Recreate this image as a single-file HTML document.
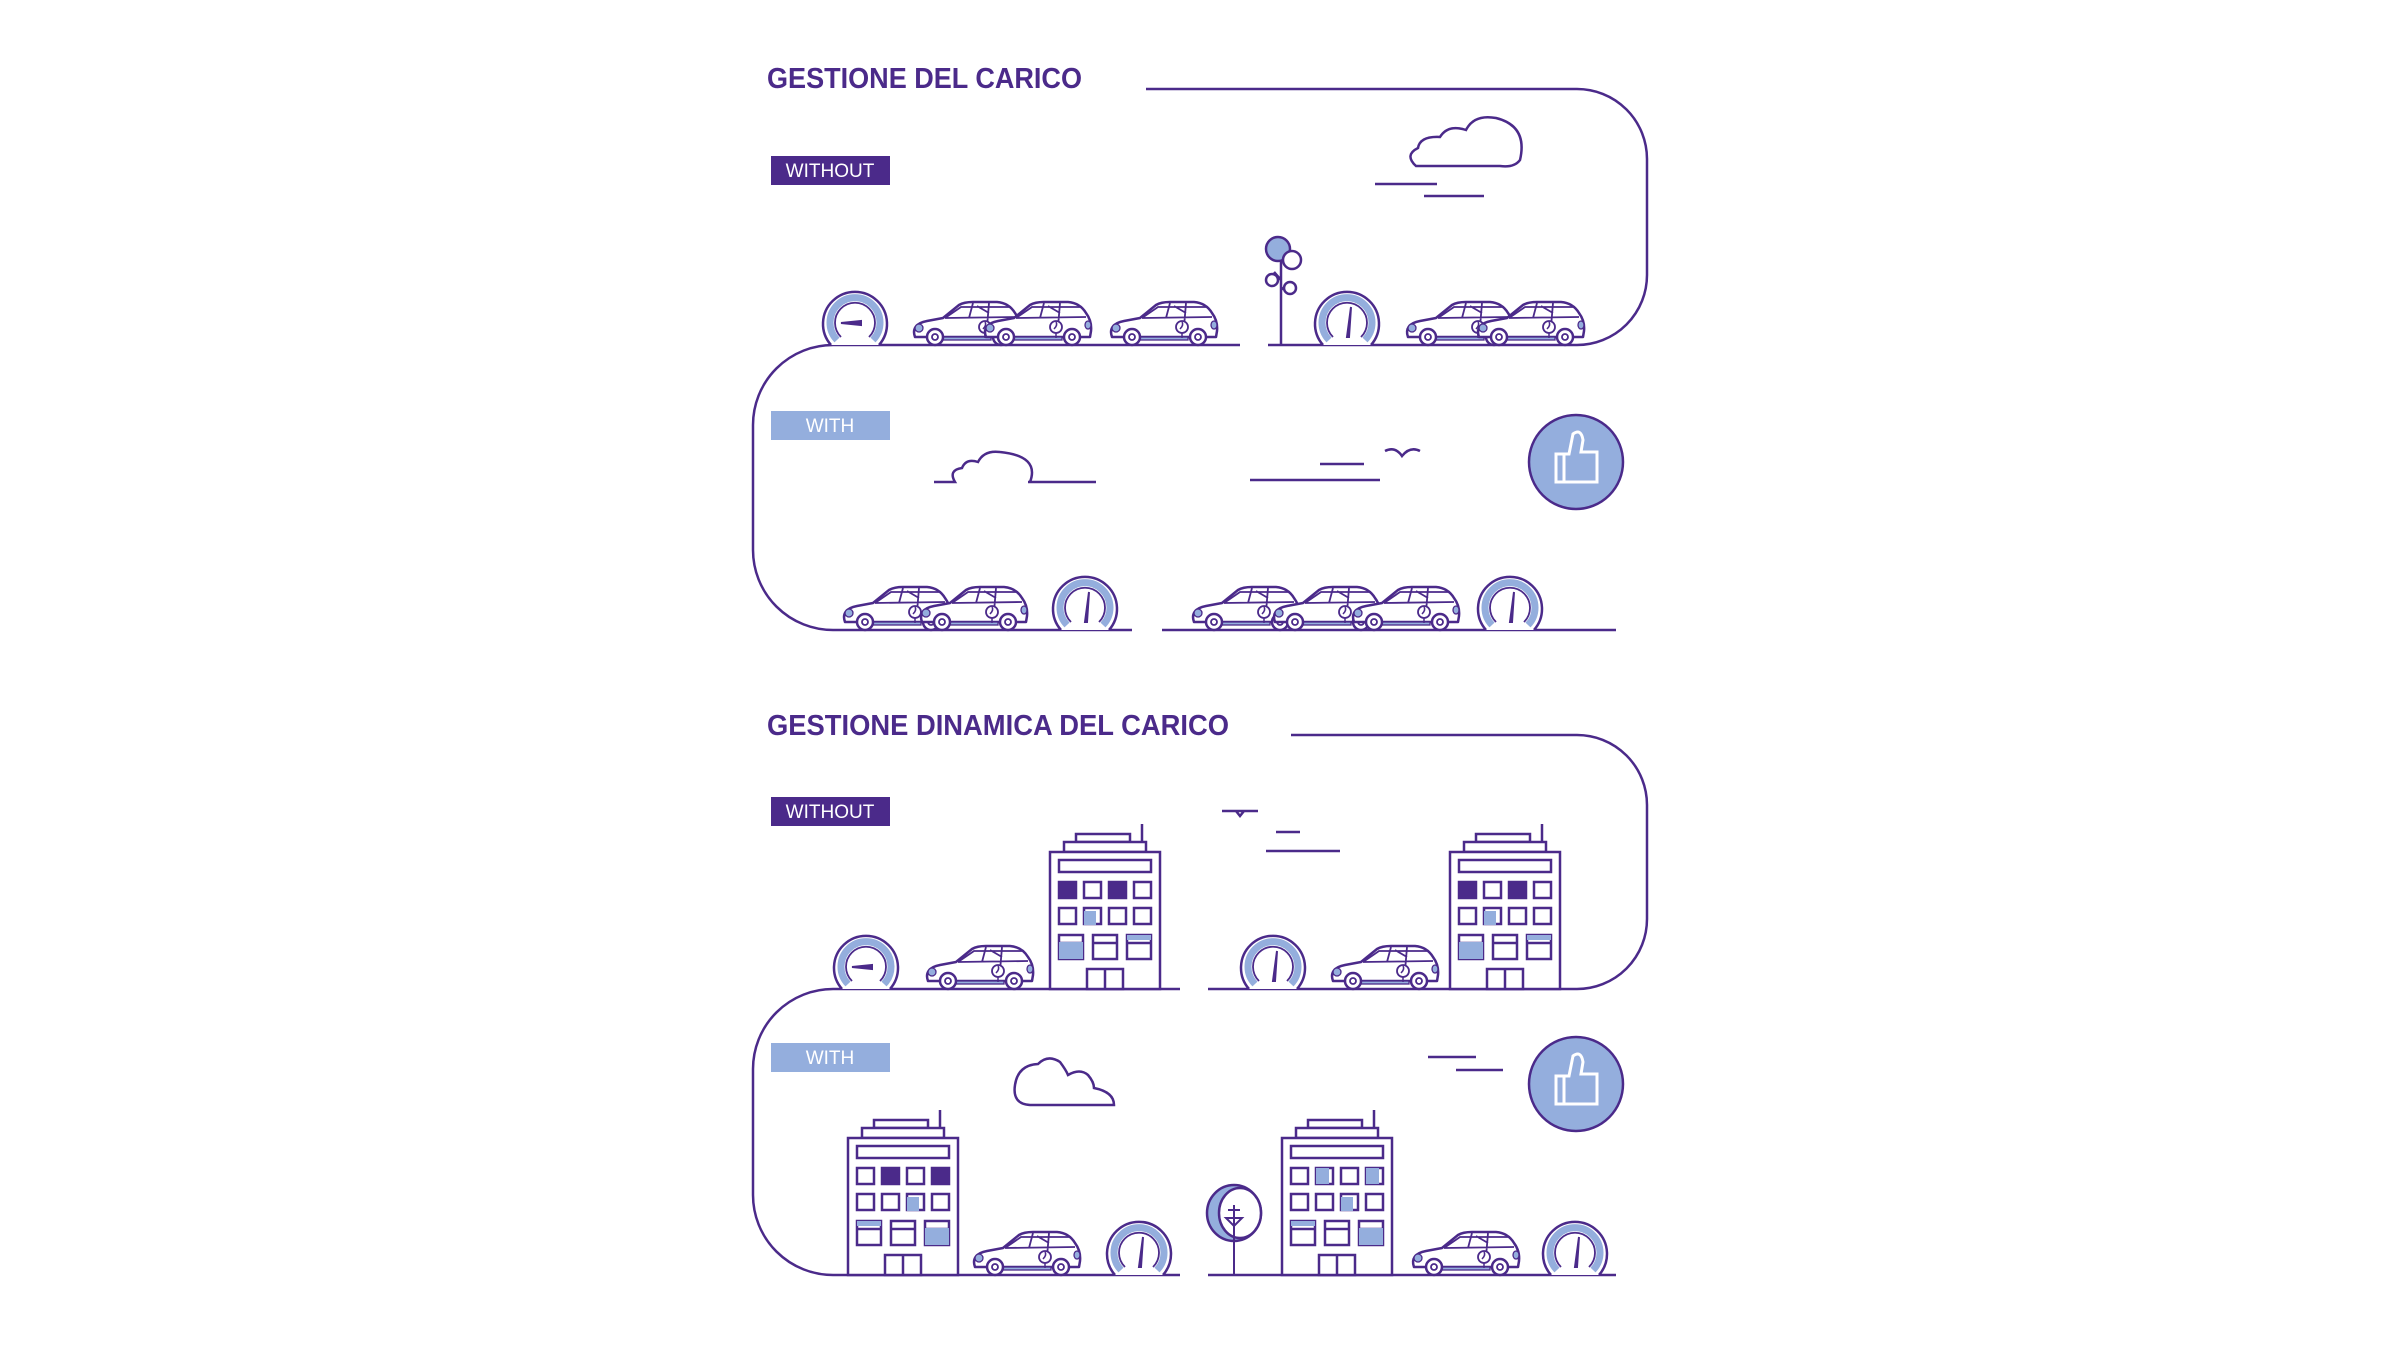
<!DOCTYPE html>
<html><head><meta charset="utf-8"><style>html,body{margin:0;padding:0;background:#fff;overflow:hidden}svg{display:block}</style></head>
<body>
<svg width="2400" height="1350" viewBox="0 0 2400 1350" xmlns="http://www.w3.org/2000/svg">
<defs>
<symbol id="car" overflow="visible">
 <path d="M4,40 C1,32 5,26 16,24 L32,21 L48,8 Q53,5 62,5 L86,5 Q98,6 104,16 Q110,24 109,34 L108,40 Z" fill="#fff" stroke="#4b2a8a" stroke-width="2.5" stroke-linejoin="round"/>
 <path d="M34,21 L50,10 L100,10 M34,21 L104,20 M62,6 L58,21 M78,6 L76,30 M66,9 L78,16" fill="none" stroke="#4b2a8a" stroke-width="1.8"/>
 <ellipse cx="8" cy="31" rx="4" ry="4" fill="#94aedd" stroke="#4b2a8a" stroke-width="1.3"/>
 <ellipse cx="106" cy="28" rx="3" ry="4" fill="#94aedd" stroke="#4b2a8a" stroke-width="1.3"/>
 <rect x="30" y="40" width="50" height="3" fill="#94aedd" stroke="#4b2a8a" stroke-width="1.3"/>
 <circle cx="74" cy="30" r="6" fill="#fff" stroke="#4b2a8a" stroke-width="1.8"/>
 <path d="M74,36 L74,41 M72,32 Q76,28 74,25" fill="none" stroke="#4b2a8a" stroke-width="1.5"/>
 <circle cx="24" cy="40" r="8" fill="#fff" stroke="#4b2a8a" stroke-width="2.5"/>
 <circle cx="24" cy="40" r="3" fill="#fff" stroke="#4b2a8a" stroke-width="1.8"/>
 <circle cx="90" cy="40" r="8" fill="#fff" stroke="#4b2a8a" stroke-width="2.5"/>
 <circle cx="90" cy="40" r="3" fill="#fff" stroke="#4b2a8a" stroke-width="1.8"/>
</symbol>
<symbol id="gauge" overflow="visible">
 <path d="M-24,0 A32,32 0 1 1 24,0" fill="#fff" stroke="#4b2a8a" stroke-width="2.5"/>
 <path d="M-18,-5 A25,25 0 1 1 18,-5" fill="none" stroke="#94aedd" stroke-width="7"/>
 <path d="M-14,-8 A20,20 0 1 1 14,-8" fill="none" stroke="#4b2a8a" stroke-width="1.8"/>
 <path d="M0,-8 L4,-38 L2,-8 Z" fill="#4b2a8a" stroke="#4b2a8a" stroke-width="2"/>
</symbol>
<symbol id="gaugeL" overflow="visible">
 <path d="M-24,0 A32,32 0 1 1 24,0" fill="#fff" stroke="#4b2a8a" stroke-width="2.5"/>
 <path d="M-18,-5 A25,25 0 1 1 18,-5" fill="none" stroke="#94aedd" stroke-width="7"/>
 <path d="M-14,-8 A20,20 0 1 1 14,-8" fill="none" stroke="#4b2a8a" stroke-width="1.8"/>
 <path d="M-14,-22 L6,-20 L6,-24 Z" fill="#4b2a8a" stroke="#4b2a8a" stroke-width="2"/>
</symbol>
<symbol id="building" overflow="visible">
 <g fill="#fff" stroke="#4b2a8a" stroke-width="2.5">
 <path d="M92,0 L92,20" fill="none"/>
 <rect x="26" y="10" width="54" height="8"/>
 <rect x="14" y="18" width="82" height="10"/>
 <rect x="0" y="28" width="110" height="137"/>
 <rect x="9" y="36" width="92" height="12"/>
 <rect x="9" y="58" width="17" height="16"/><rect x="34" y="58" width="17" height="16"/><rect x="59" y="58" width="17" height="16"/><rect x="84" y="58" width="17" height="16"/>
 <rect x="9" y="84" width="17" height="16"/><rect x="34" y="84" width="17" height="16"/><rect x="59" y="84" width="17" height="16"/><rect x="84" y="84" width="17" height="16"/>
 <rect x="9" y="111" width="24" height="24"/><rect x="43" y="111" width="24" height="24"/><rect x="77" y="111" width="24" height="24"/>
 <path d="M9,119 L33,119 M43,119 L67,119 M77,119 L101,119" fill="none"/>
 <rect x="37" y="145" width="36" height="20"/>
 <path d="M55,145 L55,165" fill="none"/>
 </g>
</symbol>
<symbol id="thumb" overflow="visible">
 <circle cx="0" cy="0" r="47" fill="#94aedd" stroke="#4b2a8a" stroke-width="2.5"/>
 <path d="M-20,20 L-20,-8 L-7,-8 L-3,-28 Q5,-34 7,-22 L5,-10 L21,-10 L21,20 Z M-12,-8 L-12,20" fill="none" stroke="#fff" stroke-width="3"/>
</symbol>
</defs>

<g font-family="Liberation Sans, sans-serif" fill="none" stroke="#4b2a8a" stroke-width="2.5">
<!-- TOP SECTION -->
<text x="767" y="88" font-size="29" font-weight="bold" fill="#4b2a8a" stroke="none" textLength="315" lengthAdjust="spacingAndGlyphs">GESTIONE DEL CARICO</text>
<path d="M1146,89 L1577,89 A70,70 0 0 1 1647,159 L1647,275 A70,70 0 0 1 1577,345 L1268,345"/>
<path d="M1240,345 L833,345 A80,80 0 0 0 753,425 L753,550 A80,80 0 0 0 833,630 L1132,630"/>
<path d="M1162,630 L1616,630"/>
<rect x="771" y="156" width="119" height="29" fill="#4b2a8a" stroke="none"/>
<text x="830" y="177" font-size="19" fill="#fff" stroke="none" text-anchor="middle">WITHOUT</text>
<rect x="771" y="411" width="119" height="29" fill="#94aedd" stroke="none"/>
<text x="830" y="432" font-size="19" fill="#fff" stroke="none" text-anchor="middle">WITH</text>
<path d="M1416,166 Q1404,155 1418,148 Q1420,136 1440,137 Q1448,124 1466,130 Q1474,114 1496,118 Q1528,126 1520,160 Q1514,168 1500,166 Z" fill="#fff"/>
<path d="M1375,184 L1437,184 M1424,196 L1484,196"/>
<path d="M1281,238 L1281,345 M1281,290 L1290,282 M1274,272 L1281,280"/>
<circle cx="1278" cy="249" r="12" fill="#94aedd"/>
<circle cx="1292" cy="260" r="9" fill="#fff"/>
<circle cx="1272" cy="280" r="6" fill="#fff"/>
<circle cx="1290" cy="288" r="6" fill="#fff"/>
<use href="#gaugeL" x="855" y="345"/>
<use href="#car" x="911" y="297"/><use href="#car" x="982" y="297"/><use href="#car" x="1108" y="297"/>
<use href="#gauge" x="1347" y="345"/>
<use href="#car" x="1404" y="297"/><use href="#car" x="1475" y="297"/>
<path d="M934,482 L955,482 Q948,470 962,468 Q966,458 978,462 Q984,450 1000,452 Q1040,456 1030,482 M1028,482 L1096,482"/>
<path d="M1320,464 L1364,464 M1250,480 L1380,480 M1385,451 Q1395,446 1402,456 Q1410,446 1420,451"/>
<use href="#thumb" x="1576" y="462"/>
<use href="#car" x="841" y="582"/><use href="#car" x="918" y="582"/>
<use href="#gauge" x="1085" y="630"/>
<use href="#car" x="1190" y="582"/><use href="#car" x="1271" y="582"/><use href="#car" x="1350" y="582"/>
<use href="#gauge" x="1510" y="630"/>

<!-- BOTTOM SECTION -->
<text x="767" y="735" font-size="29" font-weight="bold" fill="#4b2a8a" stroke="none" textLength="462" lengthAdjust="spacingAndGlyphs">GESTIONE DINAMICA DEL CARICO</text>
<path d="M1291,735 L1577,735 A70,70 0 0 1 1647,805 L1647,919 A70,70 0 0 1 1577,989 L1208,989"/>
<path d="M1180,989 L833,989 A80,80 0 0 0 753,1069 L753,1195 A80,80 0 0 0 833,1275 L1180,1275"/>
<path d="M1208,1275 L1616,1275"/>
<rect x="771" y="797" width="119" height="29" fill="#4b2a8a" stroke="none"/>
<text x="830" y="818" font-size="19" fill="#fff" stroke="none" text-anchor="middle">WITHOUT</text>
<rect x="771" y="1043" width="119" height="29" fill="#94aedd" stroke="none"/>
<text x="830" y="1064" font-size="19" fill="#fff" stroke="none" text-anchor="middle">WITH</text>
<use href="#building" x="1050" y="824"/>
<use href="#building" x="1450" y="824"/>
<use href="#building" x="848" y="1110"/>
<use href="#building" x="1282" y="1110"/>
<g fill="#4b2a8a" stroke="none">
 <rect x="1059" y="882" width="17" height="16"/><rect x="1109" y="882" width="17" height="16"/>
 <rect x="1459" y="882" width="17" height="16"/><rect x="1509" y="882" width="17" height="16"/>
 <rect x="882" y="1168" width="17" height="16"/><rect x="932" y="1168" width="17" height="16"/>
</g>
<g fill="#94aedd" stroke="none">
 <rect x="1084" y="911" width="12" height="14"/><rect x="1059" y="942" width="24" height="17"/><rect x="1127" y="935" width="24" height="5"/>
 <rect x="1484" y="911" width="12" height="14"/><rect x="1459" y="942" width="24" height="17"/><rect x="1527" y="935" width="24" height="5"/>
 <rect x="907" y="1197" width="12" height="14"/><rect x="857" y="1221" width="24" height="5"/><rect x="925" y="1228" width="24" height="17"/>
 <rect x="1316" y="1168" width="13" height="16"/><rect x="1366" y="1168" width="13" height="16"/><rect x="1341" y="1197" width="12" height="14"/><rect x="1291" y="1221" width="24" height="5"/><rect x="1359" y="1228" width="24" height="17"/>
</g>
<use href="#gaugeL" x="866" y="989"/>
<use href="#car" x="924" y="941"/>
<use href="#gauge" x="1273" y="989"/>
<use href="#car" x="1329" y="941"/>
<path d="M1222,811 L1258,811 M1236,811 L1240,816 L1244,811 M1276,832 L1300,832 M1266,851 L1340,851"/>
<path d="M1030,1105 Q1012,1104 1015,1085 Q1018,1065 1038,1064 Q1048,1054 1060,1062 Q1066,1070 1068,1075 Q1080,1068 1088,1075 Q1094,1082 1094,1088 Q1114,1092 1114,1105 Z" fill="#fff"/>
<path d="M1428,1057 L1476,1057 M1456,1070 L1503,1070"/>
<use href="#thumb" x="1576" y="1084"/>
<ellipse cx="1234" cy="1213" rx="27" ry="28" fill="#94aedd"/>
<ellipse cx="1240" cy="1213" rx="21" ry="25" fill="#fff"/>
<path d="M1234,1205 L1234,1275 M1226,1218 L1242,1218 L1234,1226 Z M1228,1210 L1240,1210" stroke-width="2"/>
<use href="#car" x="971" y="1227"/>
<use href="#gauge" x="1139" y="1275"/>
<use href="#car" x="1410" y="1227"/>
<use href="#gauge" x="1575" y="1275"/>
</g>
</svg>
</body></html>
